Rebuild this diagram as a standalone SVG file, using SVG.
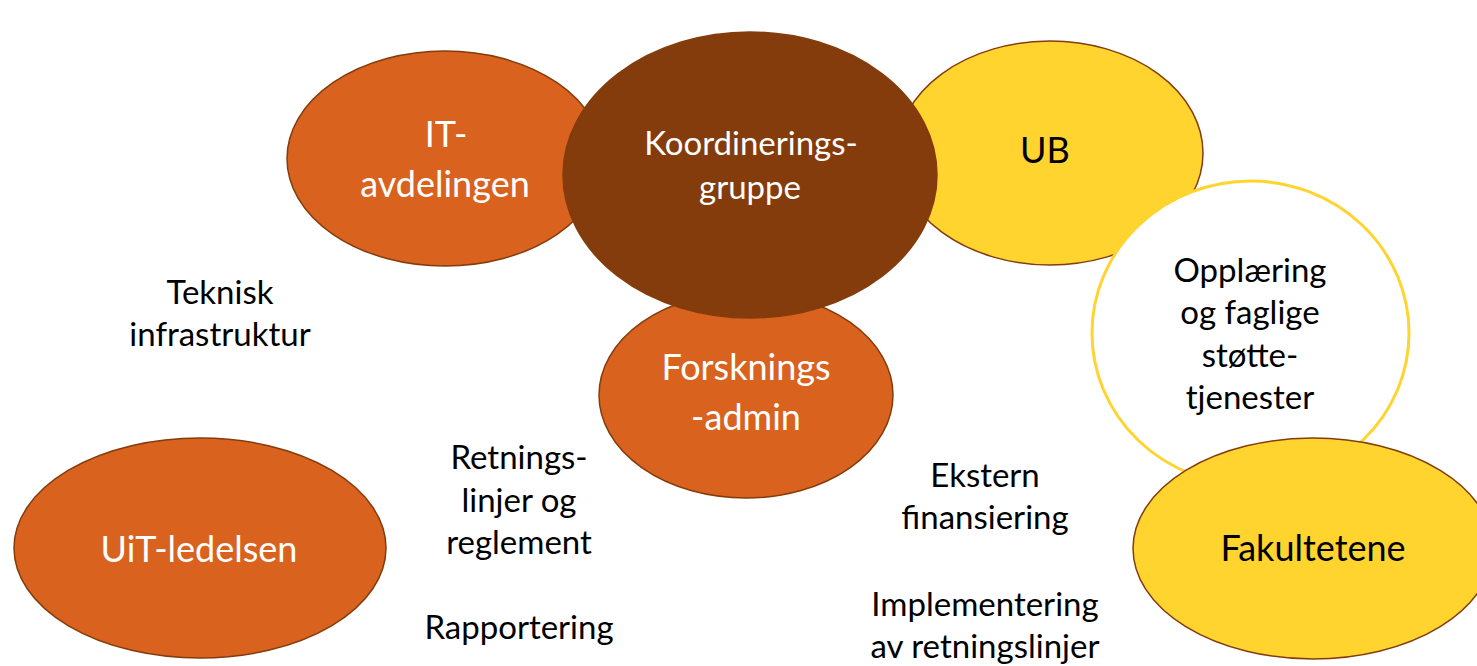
<svg xmlns="http://www.w3.org/2000/svg" width="1477" height="666" viewBox="0 0 1477 666">
<style>
.orange{fill:#D9621F;stroke:#843C0C;stroke-width:1.5}
.brown{fill:#843C0C;stroke:#843C0C;stroke-width:1.5}
.yellow{fill:#FFD42F;stroke:#843C0C;stroke-width:1.5}
.ring{fill:#FFFFFF;stroke:#FFD42F;stroke-width:3}
text{font-family:Lato,"Liberation Sans",sans-serif;text-anchor:middle}
.w{fill:#FFFFFF;font-size:36px}
.b{fill:#000000;font-size:36px}
.s{fill:#000000;font-size:33px}
</style>
<g id="connectors"></g>
<g id="it-avdelingen">
<ellipse class="orange" cx="445" cy="158.5" rx="158" ry="107.5"/>
<text class="w" x="446" y="147">IT-</text>
<text class="w" x="445" y="197">avdelingen</text>
</g>
<g id="ub">
<ellipse class="yellow" cx="1050" cy="153" rx="153" ry="112"/>
<text class="b" x="1045" y="163">UB</text>
</g>
<g id="forskningsadmin">
<ellipse class="orange" cx="746" cy="395" rx="147" ry="103"/>
<text class="w" x="746" y="380">Forsknings</text>
<text class="w" x="746" y="430">-admin</text>
</g>
<g id="koordineringsgruppe">
<ellipse class="brown" cx="750" cy="175" rx="187" ry="143"/>
<text class="w" style="font-size:33px" x="751" y="155">Koordinerings-</text>
<text class="w" style="font-size:33px" x="750" y="199">gruppe</text>
</g>
<g id="opplaering">
<ellipse class="ring" cx="1250.5" cy="333" rx="158.5" ry="152"/>
<text class="s" x="1250" y="282">Opplæring</text>
<text class="s" x="1250" y="324">og faglige</text>
<text class="s" x="1250" y="367">støtte-</text>
<text class="s" x="1250" y="409">tjenester</text>
</g>
<g id="fakultetene">
<ellipse class="yellow" cx="1313" cy="548.5" rx="180" ry="110.5"/>
<text class="b" x="1313" y="561">Fakultetene</text>
</g>
<g id="uit-ledelsen">
<ellipse class="orange" cx="200" cy="548" rx="186" ry="110"/>
<text class="w" x="199" y="562">UiT-ledelsen</text>
</g>
<g id="label-teknisk">
<text class="s" x="220" y="304">Teknisk</text>
<text class="s" x="220" y="346">infrastruktur</text>
</g>
<g id="label-retningslinjer">
<text class="s" x="519" y="469">Retnings-</text>
<text class="s" x="519" y="512">linjer og</text>
<text class="s" x="519" y="554">reglement</text>
<text class="s" x="519" y="639">Rapportering</text>
</g>
<g id="label-ekstern">
<text class="s" x="985" y="487">Ekstern</text>
<text class="s" x="985" y="529">finansiering</text>
<text class="s" x="985" y="616">Implementering</text>
<text class="s" x="985" y="658">av retningslinjer</text>
</g>
</svg>
